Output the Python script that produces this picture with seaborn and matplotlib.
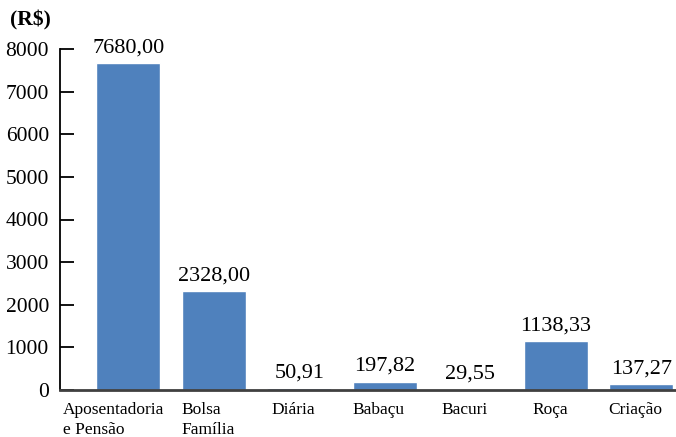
import matplotlib
matplotlib.use("Agg")
import matplotlib.pyplot as plt
import matplotlib.transforms as mtransforms
import seaborn as sns
import pandas as pd

categories = ["Aposentadoria\ne Pensão", "Bolsa\nFamília", "Diária", "Babaçu", "Bacuri", "Roça", "Criação"]
values = [7680.00, 2328.00, 50.91, 197.82, 29.55, 1138.33, 137.27]
yticks = [0, 1000, 2000, 3000, 4000, 5000, 6000, 7000, 8000]

sns.set_theme(style="white")
plt.rcParams["font.family"] = ["Liberation Serif", "DejaVu Serif"]
plt.rcParams["text.color"] = "black"
plt.rcParams["xtick.color"] = "black"
plt.rcParams["ytick.color"] = "black"
plt.rcParams["xtick.labelcolor"] = "black"
plt.rcParams["ytick.labelcolor"] = "black"

df = pd.DataFrame({"cat": categories, "val": values})

fig = plt.figure(figsize=(6.76, 4.37), dpi=100)
ax = fig.add_axes([60/676, 1 - 390/437, 618/676, (390-49)/437])

sns.barplot(data=df, x="cat", y="val", color="#4f81bd", saturation=1, width=0.75, ax=ax)

ax.set_ylim(0, 8000)
ax.set_xlim(-0.8, 6.43)
ax.set_yticks(yticks)
ax.set_yticklabels([str(t) for t in yticks], fontsize=15.5, color="black")
ax.tick_params(axis="y", direction="in", length=10, width=1.3, color="black", pad=8, left=True)
ax.tick_params(axis="x", length=0, pad=9)
ax.set_xlabel("")
ax.set_ylabel("")

for side in ["top", "right"]:
    ax.spines[side].set_visible(False)
ax.spines["left"].set_color("black")
ax.spines["left"].set_linewidth(1.3)
ax.spines["bottom"].set_color("#404040")
ax.spines["bottom"].set_linewidth(2)

labels = ax.set_xticklabels(categories, fontsize=12.5, ha="center", multialignment="left",
                            linespacing=1.25, color="black")
for i, lab in enumerate(labels):
    dx = -15 if i == 0 else -6
    lab.set_transform(lab.get_transform() + mtransforms.ScaledTranslation(dx/100, 0, fig.dpi_scale_trans))

def fmt(v):
    return f"{v:.2f}".replace(".", ",")

for cont in ax.containers:
    ax.bar_label(cont, labels=[fmt(v) for v in values], padding=4, fontsize=16, color="black")

fig.text(10/676, 1 - 20/437, "(R$)", fontsize=15.5, fontweight="bold", va="center", ha="left", color="black")

fig.savefig("out.png", dpi=100)
